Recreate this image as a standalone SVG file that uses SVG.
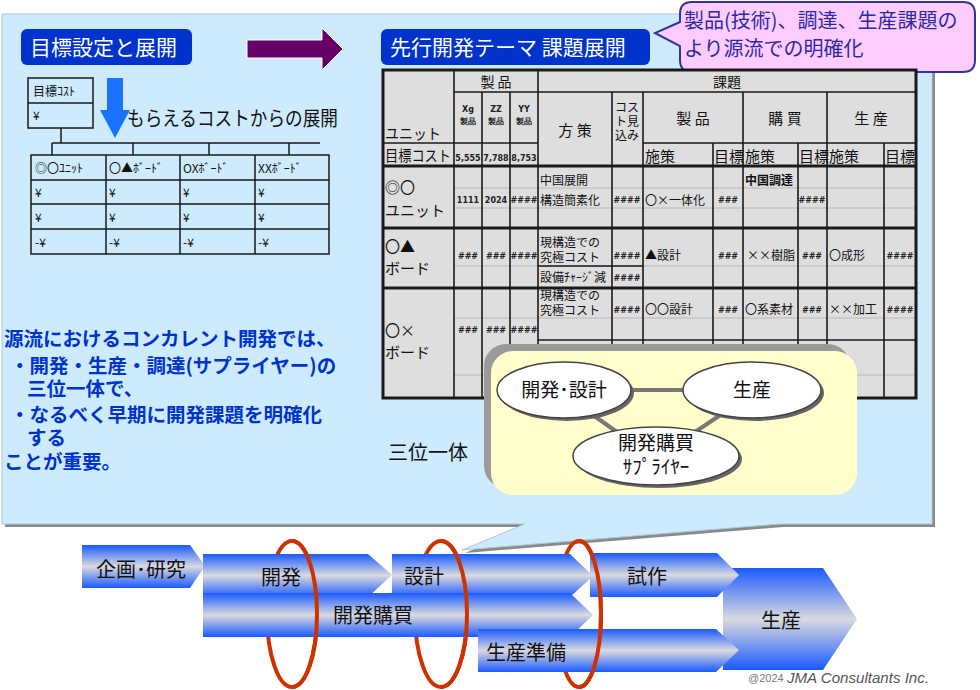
<svg xmlns="http://www.w3.org/2000/svg" width="980" height="690" viewBox="0 0 980 690">
<defs>
<linearGradient id="bar" x1="0" y1="0" x2="0" y2="1">
<stop offset="0" stop-color="#1a5aff"/>
<stop offset="0.5" stop-color="#dadade"/>
<stop offset="1" stop-color="#1a5aff"/>
</linearGradient>
<style>
.jp{font-family:"Noto Sans CJK JP","Noto Sans",sans-serif;}
.hdr{fill:#0033cc;}
.hdrt{font-family:"Noto Sans CJK JP",sans-serif;font-size:21px;fill:#ffffff;}
.tb{font-family:"Noto Sans CJK JP",sans-serif;font-size:12px;fill:#111;}
.tbl{font-family:"Noto Sans CJK JP",sans-serif;font-size:15px;fill:#111;}
.hs{font-family:"DejaVu Sans",sans-serif;font-size:8px;font-weight:bold;fill:#222;text-anchor:middle;}
.dk{stroke:#1a1a1a;stroke-width:1.6;fill:none;}
.th{stroke:#1a1a1a;stroke-width:3;fill:none;}
.lt{stroke:#b8b8b8;stroke-width:1;fill:none;}
.small{stroke:#1a1a1a;stroke-width:1.5;fill:none;}
.st{font-family:"Noto Sans CJK JP",sans-serif;font-size:12px;fill:#111;}
.blue{font-family:"Noto Sans CJK JP",sans-serif;font-size:19.5px;font-weight:bold;fill:#0033cc;}
.pb{fill:url(#bar);}
.pt{font-family:"Noto Sans CJK JP",sans-serif;font-size:20px;fill:#111;}
.ring{fill:none;stroke:#cc3300;stroke-width:4;}
.ell{fill:#ffffff;stroke:#444;stroke-width:1.5;}
.ells{fill:#666;}
.et{font-family:"Noto Sans CJK JP",sans-serif;font-size:19px;fill:#111;text-anchor:middle;}
</style>
</defs>
<rect width="980" height="690" fill="#ffffff"/>

<g id="panel">
<path d="M5,17 H935 V527 H783 L465,553 L528,527 H5 Z" fill="#8a8a8a"/>
<path d="M2,14 H932 V524 H780 L462,550 L525,524 H2 Z" fill="#cdebfd" stroke="#b0c8d8" stroke-width="1"/>
</g>

<g id="header-goal">
<rect x="21" y="29" width="171" height="36" rx="6" class="hdr"/>
<text x="30" y="55" class="hdrt">目標設定と展開</text>
</g>

<g id="purple-arrow">
<path d="M247,40 H322 V28 L343,49 L322,70 V58 H247 Z" fill="#660066" stroke="#ffffff" stroke-width="1"/>
</g>

<g id="header-theme">
<rect x="381" y="29" width="269" height="36" rx="6" class="hdr"/>
<text x="390" y="55" class="hdrt">先行開発テーマ 課題展開</text>
</g>

<g id="callout">
<path d="M692,2 H963 Q975,2 975,14 V60 Q975,72 963,72 H692 Q680,72 680,60 V46 L655,33 L680,22 V14 Q680,2 692,2 Z" fill="#ffccff" stroke="#333399" stroke-width="2"/>
<text x="684" y="28" class="jp" font-size="20" fill="#2a2aa8">製品(技術)、調達、生産課題の</text>
<text x="684" y="56" class="jp" font-size="20" fill="#2a2aa8">より源流での明確化</text>
</g>

<g id="target-cost">
<rect x="28" y="78" width="65" height="50" fill="none" class="small"/>
<line x1="28" y1="103" x2="93" y2="103" class="small"/>
<text x="33" y="96" class="st">目標ｺｽﾄ</text>
<text x="33" y="120" class="st">¥</text>
</g>

<g id="down-arrow">
<path d="M107,78 H123 V110 H130 L115,138 L100,110 H107 Z" fill="#1a73ff"/>
</g>
<text x="127" y="126" class="jp" font-size="20" fill="#111" textLength="211" lengthAdjust="spacingAndGlyphs">もらえるコストからの展開</text>

<g id="connectors">
<path d="M61,128 V143 M52,143 H320 M52,143 V155 M133,143 V155 M209,143 V155 M289,143 V155" class="small"/>
</g>

<g id="budget-table">
<rect x="31" y="155" width="298" height="99" fill="none" class="small"/>
<path d="M106,155 V254 M180,155 V254 M255,155 V254 M31,180 H329 M31,204 H329 M31,229 H329" class="small"/>
<text x="35" y="173" class="st">◎〇ﾕﾆｯﾄ</text>
<text x="109" y="173" class="st">〇▲ﾎﾞｰﾄﾞ</text>
<text x="183" y="173" class="st">OXﾎﾞｰﾄﾞ</text>
<text x="258" y="173" class="st">XXﾎﾞｰﾄﾞ</text>
<text x="35" y="197" class="st">¥</text><text x="109" y="197" class="st">¥</text><text x="183" y="197" class="st">¥</text><text x="258" y="197" class="st">¥</text>
<text x="35" y="222" class="st">¥</text><text x="109" y="222" class="st">¥</text><text x="183" y="222" class="st">¥</text><text x="258" y="222" class="st">¥</text>
<text x="35" y="247" class="st">-¥</text><text x="109" y="247" class="st">-¥</text><text x="183" y="247" class="st">-¥</text><text x="258" y="247" class="st">-¥</text>
</g>

<g id="message">
<text x="4" y="346" class="blue">源流におけるコンカレント開発では、</text>
<text x="10" y="373" class="blue">・開発・生産・調達(サプライヤー)の</text>
<text x="27" y="396" class="blue">三位一体で、</text>
<text x="10" y="422" class="blue">・なるべく早期に開発課題を明確化</text>
<text x="27" y="445" class="blue">する</text>
<text x="4" y="469" class="blue">ことが重要。</text>
</g>

<g id="issue-table">
<rect x="383" y="70" width="533" height="328" fill="#dedede"/>
<path d="M454,188 H916 M454,208 H916 M454,266 H916 M454,318 H916 M454,375 H916" class="lt"/>
<path d="M454,70 V398 M482,92 V398 M510,92 V398 M538,70 V398 M612,92 V398 M643,92 V398 M713,143 V398 M743,92 V398 M798,143 V398 M827,92 V398 M884,143 V398" class="dk"/>
<path d="M454,92 H916 M383,143 H538 M643,143 H916 M538,266 H643 M538,340 H916" class="dk"/>
<path d="M383,166 H916 M383,228 H916 M383,288 H916" class="th"/>
<rect x="383" y="70" width="533" height="328" class="th" stroke-width="2"/>

<text x="496" y="87" class="jp" font-size="14" text-anchor="middle" fill="#111">製 品</text>
<text x="727" y="87" class="jp" font-size="14" text-anchor="middle" fill="#111">課題</text>
<text x="468" y="112" class="hs">Xg</text><text x="468" y="124" class="hs">製品</text>
<text x="496" y="112" class="hs">ZZ</text><text x="496" y="124" class="hs">製品</text>
<text x="524" y="112" class="hs">YY</text><text x="524" y="124" class="hs">製品</text>
<text x="575" y="136" class="jp" font-size="15" text-anchor="middle" fill="#111">方 策</text>
<text x="627" y="112" class="jp" font-size="12" text-anchor="middle" fill="#111">コス</text>
<text x="627" y="126" class="jp" font-size="12" text-anchor="middle" fill="#111">ト見</text>
<text x="627" y="140" class="jp" font-size="12" text-anchor="middle" fill="#111">込み</text>
<text x="693" y="124" class="jp" font-size="15" text-anchor="middle" fill="#111">製 品</text>
<text x="785" y="124" class="jp" font-size="15" text-anchor="middle" fill="#111">購 買</text>
<text x="871" y="124" class="jp" font-size="15" text-anchor="middle" fill="#111">生 産</text>
<text x="385" y="139" class="tbl" textLength="56" lengthAdjust="spacingAndGlyphs">ユニット</text>
<text x="385" y="161" class="tbl" textLength="66" lengthAdjust="spacingAndGlyphs">目標コスト</text>
<text x="468" y="161" class="hs" font-size="6">5,555</text>
<text x="496" y="161" class="hs" font-size="6">7,788</text>
<text x="524" y="161" class="hs" font-size="6">8,753</text>
<text x="645" y="162" class="tbl">施策</text>
<text x="714" y="162" class="tbl">目標</text>
<text x="745" y="162" class="tbl">施策</text>
<text x="799" y="162" class="tbl">目標</text>
<text x="829" y="162" class="tbl">施策</text>
<text x="885" y="162" class="tbl">目標</text>

<text x="385" y="193" class="tbl">◎〇</text>
<text x="385" y="216" class="tbl">ユニット</text>
<text x="468" y="203" class="hs" font-size="7">1111</text>
<text x="496" y="203" class="hs" font-size="7">2024</text>
<text x="524" y="203" class="hs" font-size="7">####</text>
<text x="540" y="185" class="tb">中国展開</text>
<text x="540" y="205" class="tb">構造簡素化</text>
<text x="627" y="203" class="hs" font-size="7">####</text>
<text x="645" y="205" class="tb">〇×一体化</text>
<text x="728" y="203" class="hs">###</text>
<text x="745" y="185" class="tb" font-weight="bold">中国調達</text>
<text x="812" y="203" class="hs">####</text>

<text x="385" y="252" class="tbl">〇▲</text>
<text x="385" y="274" class="tbl">ボード</text>
<text x="468" y="259" class="hs">###</text>
<text x="496" y="259" class="hs">###</text>
<text x="524" y="259" class="hs" font-size="7">####</text>
<text x="540" y="247" class="tb">現構造での</text>
<text x="540" y="262" class="tb">究極コスト</text>
<text x="627" y="259" class="hs" font-size="7">####</text>
<text x="645" y="260" class="tb">▲設計</text>
<text x="728" y="259" class="hs">###</text>
<text x="747" y="260" class="tb">××樹脂</text>
<text x="812" y="259" class="hs">###</text>
<text x="829" y="260" class="tb">〇成形</text>
<text x="900" y="259" class="hs" font-size="7">####</text>
<text x="540" y="282" class="tb">設備ﾁｬｰｼﾞ減</text>
<text x="627" y="281" class="hs" font-size="7">####</text>

<text x="385" y="336" class="tbl">〇×</text>
<text x="385" y="358" class="tbl">ボード</text>
<text x="468" y="333" class="hs">###</text>
<text x="496" y="333" class="hs">###</text>
<text x="524" y="333" class="hs" font-size="7">####</text>
<text x="540" y="300" class="tb">現構造での</text>
<text x="540" y="315" class="tb">究極コスト</text>
<text x="627" y="313" class="hs" font-size="7">####</text>
<text x="645" y="314" class="tb">〇〇設計</text>
<text x="728" y="313" class="hs">###</text>
<text x="745" y="314" class="tb">〇系素材</text>
<text x="812" y="313" class="hs">###</text>
<text x="829" y="314" class="tb">××加工</text>
<text x="900" y="313" class="hs" font-size="7">####</text>
</g>

<text x="388" y="460" class="jp" font-size="20" fill="#111">三位一体</text>

<g id="trinity-box">
<rect x="484" y="344" width="366" height="144" rx="22" fill="#9a9a9a"/>
<rect x="491" y="351" width="366" height="144" rx="22" fill="#ffffcc"/>
</g>
<g id="connectors-trinity">
<line x1="630" y1="390" x2="685" y2="390" stroke="#777" stroke-width="4"/>
<line x1="590" y1="413" x2="617" y2="432" stroke="#777" stroke-width="4"/>
<line x1="722" y1="414" x2="695" y2="432" stroke="#777" stroke-width="4"/>
</g>
<g id="node-dev">
<ellipse cx="567" cy="393" rx="67" ry="28" class="ells"/>
<ellipse cx="564" cy="390" rx="67" ry="28" class="ell"/>
<text x="564" y="397" class="et">開発･設計</text>
</g>
<g id="node-prod">
<ellipse cx="755" cy="393" rx="69" ry="28" class="ells"/>
<ellipse cx="752" cy="390" rx="69" ry="28" class="ell"/>
<text x="752" y="397" class="et">生産</text>
</g>
<g id="node-purch">
<ellipse cx="659" cy="459" rx="83" ry="29" class="ells"/>
<ellipse cx="656" cy="456" rx="83" ry="29" class="ell"/>
<text x="656" y="450" class="et">開発購買</text>
<text x="656" y="474" class="et" font-size="15">ｻﾌﾟﾗｲﾔｰ</text>
</g>

<g id="rings-back">
<ellipse cx="292" cy="614" rx="25" ry="73" class="ring"/>
<ellipse cx="441" cy="614" rx="26" ry="73" class="ring"/>
<ellipse cx="579" cy="614" rx="22" ry="73" class="ring"/>
</g>

<g id="step-plan"><path d="M82,545 H190 L205,566 L190,588 H82 Z" class="pb"/><text x="96" y="577" class="pt">企画･研究</text></g>
<g id="step-seisan"><path d="M723,568 H823 L857,619 L823,670 H723 Z" class="pb"/><text x="761" y="628" class="pt">生産</text></g>
<g id="step-sekkei"><path d="M392,554 H570 L593,576 L570,597 H392 Z" class="pb"/><text x="404" y="584" class="pt">設計</text></g>
<g id="step-kaihatsu"><path d="M203,554 H368 L392,575 L368,597 H203 Z" class="pb"/><text x="261" y="585" class="pt">開発</text></g>
<g id="step-kobai"><path d="M203,593 H570 L593,615 L570,637 H203 Z" class="pb"/><text x="333" y="623" class="pt">開発購買</text></g>
<g id="step-shisaku"><path d="M590,553 H717 L739,575 L717,597 H590 Z" class="pb"/><text x="627" y="584" class="pt">試作</text></g>
<g id="step-junbi"><path d="M478,629 H716 L739,650 L716,672 H478 Z" class="pb"/><text x="486" y="660" class="pt">生産準備</text></g>

<g id="rings-front">
<path d="M292,541 A25,73 0 0 1 292,687" class="ring"/>
<path d="M441,541 A26,73 0 0 1 441,687" class="ring"/>
<path d="M579,541 A22,73 0 0 1 579,687" class="ring"/>
</g>

<g id="copyright">
<text x="748" y="682" font-family="Liberation Sans, sans-serif" font-size="11" fill="#777">@2024</text>
<text x="787" y="683" font-family="Liberation Sans, sans-serif" font-size="14" font-style="italic" fill="#555" textLength="142" lengthAdjust="spacingAndGlyphs">JMA Consultants Inc.</text>
</g>
</svg>
